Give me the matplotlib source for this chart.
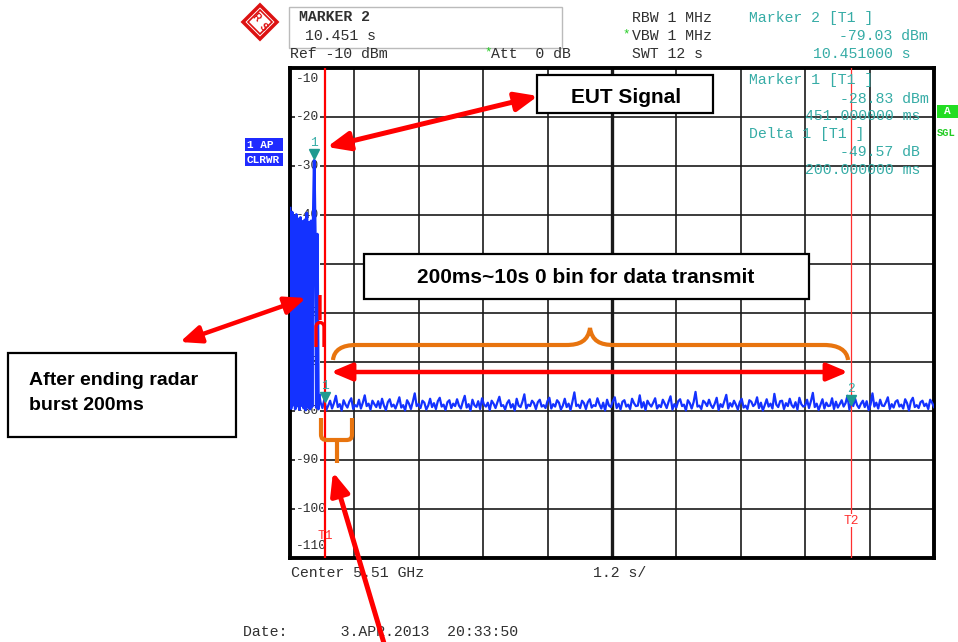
import numpy as np
import matplotlib.pyplot as plt
from matplotlib.patches import Rectangle, Polygon, FancyArrowPatch, PathPatch
from matplotlib.path import Path
from matplotlib.transforms import blended_transform_factory

W, H = 958, 642

# analyzer settings (zero span, 1.2 s/div)
sweep_time = 12.0
ref_level = -10.0
bottom_level = -110.0
y_labels = [-10, -20, -30, -40, -50, -60, -70, -80, -90, -100, -110]

# radar burst part of the trace (0 .. ~0.55 s)
burst_step = 0.0196
burst_db = [-38.6, -79.5, -39.4, -78.8, -40.2, -79.6, -39.9, -79.0, -40.8, -79.7,
            -40.5, -78.9, -41.3, -79.4, -41.0, -79.8, -39.6, -79.2, -41.5, -79.6,
            -41.2, -79.1, -41.8, -28.83, -43.5, -79.3, -43.9, -79.6, -76.8]

# noise floor after the burst (~0.57 .. 12 s)
noise_db = [
    -78.2, -79.4, -77.6, -79.8, -78.9, -77.9, -79.5, -78.4, -76.9, -79.2, -78.6, -79.9, -77.8, -78.7, -79.3, -78.1, -77.4, -79.6, -78.8, -79.1,
    -77.7, -79.5, -78.3, -76.8, -79.0, -78.5, -79.7, -77.9, -78.6, -79.2, -78.0, -79.4, -77.5, -78.9, -79.8, -78.2, -77.6, -79.1, -78.7, -79.5,
    -78.4, -77.2, -79.3, -78.8, -79.9, -77.8, -78.5, -79.6, -78.1, -76.4, -79.0, -78.6, -79.4, -77.9, -78.3, -79.7, -78.9, -77.5, -79.2, -78.4,
    -79.6, -78.0, -77.3, -79.1, -78.7, -79.8, -78.2, -77.8, -79.4, -78.5, -79.0, -77.6, -78.9, -79.5, -78.1, -76.9, -79.3, -78.6, -79.9, -77.7,
    -78.8, -79.2, -78.0, -79.6, -77.4, -78.7, -79.1, -78.3, -79.8, -77.9, -78.5, -79.4, -78.2, -77.1, -79.0, -78.8, -79.7, -78.4, -77.8, -79.3,
    -78.6, -79.9, -77.5, -78.9, -79.2, -78.1, -76.6, -79.5, -78.7, -79.0, -77.9, -78.4, -79.6, -78.2, -77.7, -79.1, -78.8, -79.4, -78.0, -77.3,
    -79.5, -78.6, -79.1, -77.8, -78.3, -79.7, -78.9, -77.5, -79.2, -78.5, -79.8, -78.1, -76.2, -79.0, -78.7, -79.4, -77.9, -78.4, -79.6, -78.2,
    -77.6, -79.3, -78.8, -79.0, -77.4, -78.6, -79.5, -78.3, -79.9, -77.7, -78.9, -79.2, -78.0, -77.2, -79.4, -78.5, -79.7, -78.1, -77.8, -79.1,
    -78.7, -79.6, -77.5, -78.4, -79.0, -78.9, -76.8, -79.3, -78.2, -79.8, -77.9, -78.6, -79.1, -78.3, -77.4, -79.5, -78.8, -79.2, -77.7, -78.5,
    -79.4, -78.1, -77.0, -79.7, -78.6, -79.3, -78.0, -77.6, -79.0, -78.7, -79.9, -77.8, -78.4, -79.5, -78.2, -76.1, -79.1, -78.9, -79.6, -77.9,
    -78.3, -79.0, -77.7, -78.8, -79.4, -78.5, -77.3, -79.8, -78.6, -79.2, -78.0, -76.7, -79.5, -78.4, -79.1, -77.9, -78.7, -79.7, -78.2, -77.5,
    -79.3, -78.9, -79.6, -77.8, -78.1, -79.0, -78.6, -77.2, -79.4, -78.3, -79.9, -78.8, -77.6, -79.1, -78.5, -79.5, -76.5, -78.7, -79.2, -78.0,
    -77.9, -79.6, -78.4, -79.0, -77.5, -78.8, -79.3, -78.2, -79.7, -77.3, -78.6, -79.1, -78.9, -77.7, -79.4, -78.0, -76.3, -79.2, -78.5, -79.8,
    -78.7, -77.6, -79.5, -78.3, -79.0, -78.9, -77.4, -79.6, -78.1, -79.3, -78.6, -77.8, -79.1, -78.4, -76.9, -79.7, -78.2, -79.0, -77.5, -78.8,
    -79.4, -78.5, -77.9, -79.2, -78.0, -79.8, -78.7, -76.4, -79.1, -78.3, -79.5, -77.7, -78.9, -79.0, -78.2, -77.2, -79.6, -78.6, -79.3, -78.1,
    -77.8, -79.1, -78.7, -79.5, -77.6, -78.4, -79.9, -78.0, -77.3, -79.2, -78.8, -79.4, -78.2, -77.9, -79.0, -78.5, -79.6, -77.7, -78.3, -79.2,
]

marker1 = (0.451, -28.83)
delta1 = (0.651, -78.40)
marker2 = (10.451, -79.03)
t1_time = 0.651
t2_time = 10.451

MONO = 'Liberation Mono'
SANS = 'Liberation Sans'
TEAL = '#36aca6'
GREY = '#303030'
RED = '#ff0000'
ORANGE = '#e8740e'
BLUE = '#1432ff'


def fx(x):
    return x / W


def fy(y):
    return 1 - y / H


def pix_path(verts, codes, **kw):
    v = [(fx(a), fy(b)) for a, b in verts]
    p = PathPatch(Path(v, codes), transform=fig.transFigure, fill=False, **kw)
    fig.add_artist(p)


def arrow(p0, p1, style, lw=3.2, ms=15):
    a = FancyArrowPatch((fx(p0[0]), fy(p0[1])), (fx(p1[0]), fy(p1[1])),
                        transform=fig.transFigure, arrowstyle=style,
                        mutation_scale=ms, lw=lw, color=RED,
                        shrinkA=0, shrinkB=0, zorder=12)
    fig.add_artist(a)


def mono(x, y, s, ha='left', color=GREY, size=10.7, weight='normal'):
    fig.text(fx(x), fy(y), s, ha=ha, va='center', family=MONO,
             fontsize=size, color=color, fontweight=weight)


fig = plt.figure(figsize=(W / 100, H / 100), dpi=100)
fig.patch.set_facecolor('white')
ax = fig.add_axes([fx(290), fy(558), (934 - 290) / W, (558 - 68) / H])
ax.set_xlim(0, sweep_time)
ax.set_ylim(bottom_level, ref_level)
ax.set_xticks([])
ax.set_yticks([])
for sp in ax.spines.values():
    sp.set_linewidth(2.8)
    sp.set_color('black')

# graticule
for i, t in enumerate(np.linspace(0, sweep_time, 11)[1:-1]):
    ax.axvline(t, color='#1a1a1a', lw=2.4 if i == 4 else 1.2, zorder=1)
for v in y_labels[1:-1]:
    ax.axhline(v, color='#1a1a1a', lw=1.2, zorder=1)

# level labels on the left inside the grid
tr = blended_transform_factory(fig.transFigure, ax.transData)
for v in y_labels:
    if v == ref_level:
        yy, va = v - 1.0, 'top'
    elif v == bottom_level:
        yy, va = v + 1.2, 'bottom'
    else:
        yy, va = v, 'center'
    ax.text(fx(296), yy, str(v), transform=tr, ha='left', va=va,
            family=MONO, fontsize=9.3, color=GREY, zorder=2,
            bbox=dict(fc='white', ec='none', pad=0.6))

# trace
burst_t = np.arange(len(burst_db)) * burst_step
noise_t = np.linspace(burst_t[-1] + burst_step, sweep_time, len(noise_db))
ax.plot(burst_t, burst_db, color=BLUE, lw=2.0, zorder=3)
ax.plot(np.concatenate([burst_t[-1:], noise_t]), burst_db[-1:] + noise_db,
        color=BLUE, lw=1.6, zorder=3)

# display lines T1 / T2
ax.axvline(t1_time, color=RED, lw=1.6, zorder=4)
ax.axvline(t2_time, color='#ff3030', lw=0.9, zorder=4)
ax.text(t1_time, -105.5, 'T1', color='#ff3030', ha='center', va='center',
        family=MONO, fontsize=9.3, zorder=5)
ax.text(t2_time, -102.4, 'T2', color='#ff3030', ha='center', va='center',
        family=MONO, fontsize=9.3, zorder=5,
        bbox=dict(fc='white', ec='none', pad=0.3))

# markers
for (t, v), lab in [(marker1, '1'), (delta1, '1'), (marker2, '2')]:
    ax.plot([t], [v + 1.2], marker='v', ms=7, color='#1f9a90', zorder=6)
    ax.text(t, v + 3.6, lab, color=TEAL, ha='center', va='center',
            family=MONO, fontsize=9.3, zorder=6)

# header
fig.add_artist(Rectangle((fx(289), fy(48)), (562 - 289) / W, 41 / H,
                         transform=fig.transFigure, fc='white', ec='#bbbbbb', lw=1))
mono(299, 17, 'MARKER 2', weight='bold')
mono(305, 36, '10.451 s')
mono(290, 54, 'Ref -10 dBm')
mono(484, 52, '*', color='#22cc22', size=9)
mono(491, 54, 'Att  0 dB')
mono(632, 18, 'RBW 1 MHz')
mono(622, 34, '*', color='#22cc22', size=9)
mono(632, 36, 'VBW 1 MHz')
mono(632, 54, 'SWT 12 s')
mono(749, 18, 'Marker 2 [T1 ]', color=TEAL)
mono(839, 36, '-79.03 dBm', color=TEAL)
mono(813, 54, '10.451000 s', color=TEAL)

# marker info inside the diagram
mono(749, 80, 'Marker 1 [T1 ]', color=TEAL)
mono(840, 99, '-28.83 dBm', color=TEAL)
mono(805, 116, '451.000000 ms', color=TEAL)
mono(749, 134, 'Delta 1 [T1 ]', color=TEAL)
mono(840, 152, '-49.57 dB', color=TEAL)
mono(805, 170, '200.000000 ms', color=TEAL)

# trace info boxes
for y0, s in [(138, '1 AP'), (153, 'CLRWR')]:
    fig.add_artist(Rectangle((fx(245), fy(y0 + 13)), 38 / W, 13 / H,
                             transform=fig.transFigure, fc='#1f2bff', ec='none'))
    fig.text(fx(247), fy(y0 + 6.5), s, ha='left', va='center', family=MONO,
             fontsize=8, color='white', fontweight='bold')
fig.add_artist(Rectangle((fx(937), fy(118)), 21 / W, 13 / H,
                         transform=fig.transFigure, fc='#22dd22', ec='none'))
fig.text(fx(947), fy(111.5), 'A', ha='center', va='center', family=MONO,
         fontsize=8, color='white', fontweight='bold')
fig.text(fx(937), fy(133), 'SGL', ha='left', va='center', family=MONO,
         fontsize=7.5, color='#22cc22', fontweight='bold')

# R&S logo
fig.add_artist(Polygon([(fx(260), fy(5)), (fx(277), fy(22)), (fx(260), fy(39)), (fx(243), fy(22))],
                       closed=True, transform=fig.transFigure, fc='white', ec='#dd1111', lw=2.5))
fig.add_artist(Polygon([(fx(260), fy(10)), (fx(272), fy(22)), (fx(260), fy(34)), (fx(248), fy(22))],
                       closed=True, transform=fig.transFigure, fc='none', ec='#dd1111', lw=1.2))
fig.text(fx(255.5), fy(17), 'R', ha='center', va='center', family=SANS,
         fontsize=7, color='#dd1111', fontweight='bold', rotation=-45)
fig.text(fx(263.5), fy(27.5), 'S', ha='center', va='center', family=SANS,
         fontsize=7, color='#dd1111', fontweight='bold', rotation=-45)

# footer
mono(291, 573, 'Center 5.51 GHz')
mono(593, 573, '1.2 s/')
mono(243, 632, 'Date:      3.APR.2013  20:33:50')


# ---- annotation overlays ----
def box(x0, y0, x1, y1):
    fig.add_artist(Rectangle((fx(x0), fy(y1)), (x1 - x0) / W, (y1 - y0) / H,
                             transform=fig.transFigure, fc='white', ec='black',
                             lw=1.6, zorder=10))


box(537, 75, 713, 113)
fig.text(fx(626), fy(103), 'EUT Signal', ha='center', va='baseline', family=SANS,
         fontsize=15, fontweight='bold', color='black', zorder=11)

box(364, 254, 809, 299)
fig.text(fx(586), fy(283), '200ms~10s 0 bin for data transmit', ha='center',
         va='baseline', family=SANS, fontsize=15, fontweight='bold',
         color='black', zorder=11)

box(8, 353, 236, 437)
fig.text(fx(29), fy(385), 'After ending radar', ha='left', va='baseline',
         family=SANS, fontsize=14, fontweight='bold', color='black', zorder=11)
fig.text(fx(29), fy(410), 'burst 200ms', ha='left', va='baseline',
         family=SANS, fontsize=14, fontweight='bold', color='black', zorder=11)

dbl = '<|-|>,head_length=0.9,head_width=0.38'
arrow((327, 147), (538, 96), dbl, lw=3.6, ms=15)
arrow((180, 342), (306, 298), dbl, lw=3.2, ms=14)
arrow((331, 372), (848, 372), dbl, lw=3.2, ms=14)
arrow((386, 650), (333, 472), '-|>,head_length=0.9,head_width=0.38', lw=3.6, ms=15)

M, L, C = Path.MOVETO, Path.LINETO, Path.CURVE4
pix_path([(333, 360), (334, 350), (342, 345), (356, 345), (566, 345),
          (580, 345), (588, 341), (590, 328), (592, 341), (600, 345), (614, 345),
          (824, 345), (838, 345), (847, 350), (848, 360)],
         [M, C, C, C, L, C, C, C, C, C, C, L, C, C, C],
         color=ORANGE, lw=3.0, zorder=11)
pix_path([(321, 418), (321, 434), (321, 439), (323, 440), (328, 440), (346, 440),
          (350, 440), (352, 439), (352, 434), (352, 418), (337, 440), (337, 463)],
         [M, L, C, C, C, L, C, C, C, L, M, L],
         color=ORANGE, lw=3.0, zorder=11)
pix_path([(320, 295), (320, 320), (316, 347), (316, 327), (316, 321), (324, 321),
          (324, 327), (324, 347)],
         [M, L, M, L, C, C, C, L],
         color=RED, lw=2.4, zorder=11)

fig.savefig('out.png', dpi=100)
